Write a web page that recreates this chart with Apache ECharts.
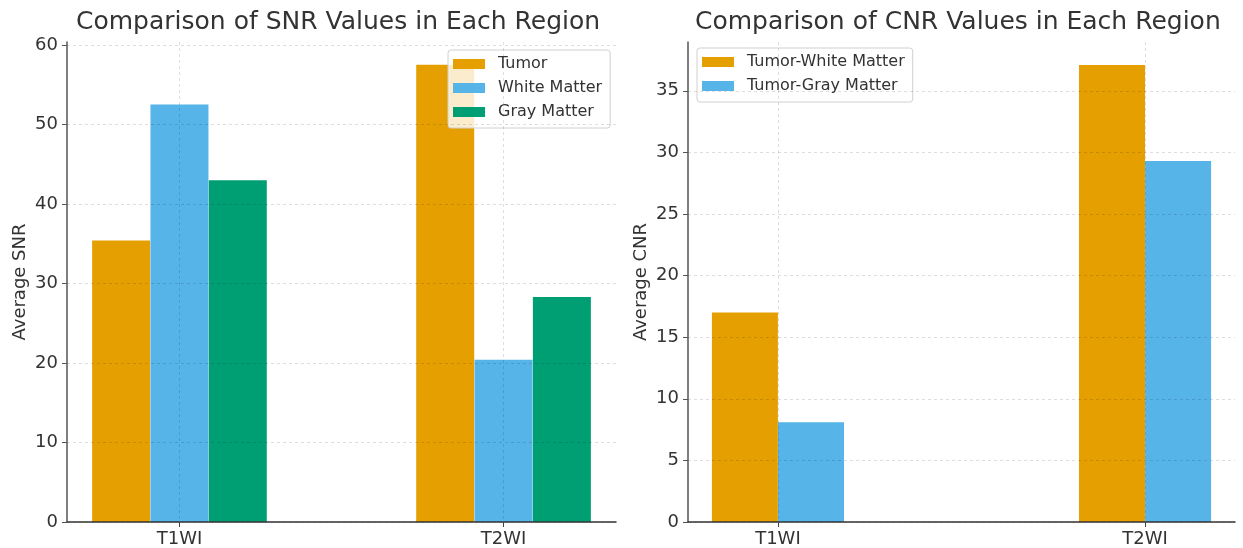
<!DOCTYPE html>
<html><head><meta charset="utf-8">
<script src="https://cdn.jsdelivr.net/npm/echarts@6/dist/echarts.min.js"></script>
<style>html,body{margin:0;padding:0;background:#fff}#c{width:1243px;height:548px}</style>
</head><body><div id="c"></div>
<script>
const categories = ['T1WI', 'T2WI'];
const snrNames = ['Tumor', 'White Matter', 'Gray Matter'];
const snrTumor = [35.4, 57.5];
const snrWhite = [52.5, 20.4];
const snrGray = [43.0, 28.3];
const cnrNames = ['Tumor-White Matter', 'Tumor-Gray Matter'];
const cnrTumorWhite = [17.0, 37.1];
const cnrTumorGray = [8.1, 29.3];
const snrTicks = [0, 10, 20, 30, 40, 50, 60];
const cnrTicks = [0, 5, 10, 15, 20, 25, 30, 35];
const catTicks = [0, 1];

const colors = ['#E69F00', '#56B4E9', '#009E73'];
const FONT = 'DejaVu Sans';
const TXT = '#333';
const BW = 0.18;

function barSeries(name, values, offset, idx, color, px) {
  return {
    type: 'bar', name: name, xAxisIndex: idx, yAxisIndex: idx,
    barWidth: px, barGap: '-100%', itemStyle: { color: color },
    data: values.map((v, i) => [i + offset, v])
  };
}
const gridLine = { show: true, lineStyle: { type: [3, 3], color: 'rgba(0,0,0,0.13)', width: 1 } };
const axLine = { show: true, onZero: false, lineStyle: { color: '#555', width: 1.5 } };
function xAx(idx, min, max) {
  return {
    type: 'value', gridIndex: idx, min: min, max: max, z: 5,
    axisLine: { show: true, onZero: false, lineStyle: { color: '#333', width: 1.5 } },
    axisTick: { show: true, customValues: catTicks, length: 5, lineStyle: { color: '#444' } },
    axisLabel: { customValues: catTicks, formatter: v => categories[Math.round(v)], fontSize: 18, color: TXT, fontFamily: FONT, margin: 8 },
    splitLine: gridLine
  };
}
function yAx(idx, max, ticks, name) {
  return {
    type: 'value', gridIndex: idx, min: 0, max: max, z: 5,
    name: name, nameLocation: 'middle', nameGap: 38,
    nameTextStyle: { fontSize: 18, color: TXT, fontFamily: FONT },
    axisLine: axLine,
    axisTick: { show: true, customValues: ticks, length: 5, lineStyle: { color: '#555' } },
    axisLabel: { customValues: ticks, fontSize: 18, color: TXT, fontFamily: FONT, margin: 9 },
    splitLine: gridLine
  };
}
const legendBase = {
  orient: 'vertical', icon: 'rect', itemWidth: 32, itemHeight: 10, itemGap: 8,
  backgroundColor: 'rgba(255,255,255,0.8)', borderColor: '#d0d0d0', borderWidth: 1, borderRadius: 3,
  textStyle: { fontSize: 16, color: TXT, fontFamily: FONT, padding: [0, 0, 0, 8] },
  padding: [6, 8, 8, 5]
};

const chart = echarts.init(document.getElementById('c'));
chart.setOption({
  animation: false,
  title: [
    { text: 'Comparison of SNR Values in Each Region', left: 76, top: 10, padding: 0,
      textStyle: { fontSize: 25, fontWeight: 'normal', color: TXT, fontFamily: FONT } },
    { text: 'Comparison of CNR Values in Each Region', left: 695, top: 10, padding: 0,
      textStyle: { fontSize: 25, fontWeight: 'normal', color: TXT, fontFamily: FONT } }
  ],
  legend: [
    Object.assign({}, legendBase, { data: snrNames, left: 448, top: 50 }),
    Object.assign({}, legendBase, { data: cnrNames, left: 697, top: 48 })
  ],
  grid: [
    { left: 67, right: 627, top: 42, bottom: 23 },
    { left: 688, right: 8, top: 42, bottom: 23 }
  ],
  xAxis: [xAx(0, -0.347, 1.347), xAx(1, -0.245, 1.245)],
  yAxis: [yAx(0, 60.375, snrTicks, 'Average SNR'), yAx(1, 38.96, cnrTicks, 'Average CNR')],
  series: [
    barSeries(snrNames[0], snrTumor, -BW, 0, colors[0], 58),
    barSeries(snrNames[1], snrWhite, 0, 0, colors[1], 58),
    barSeries(snrNames[2], snrGray, BW, 0, colors[2], 58),
    barSeries(cnrNames[0], cnrTumorWhite, -BW / 2, 1, colors[0], 66),
    barSeries(cnrNames[1], cnrTumorGray, BW / 2, 1, colors[1], 66)
  ]
});
</script></body></html>
